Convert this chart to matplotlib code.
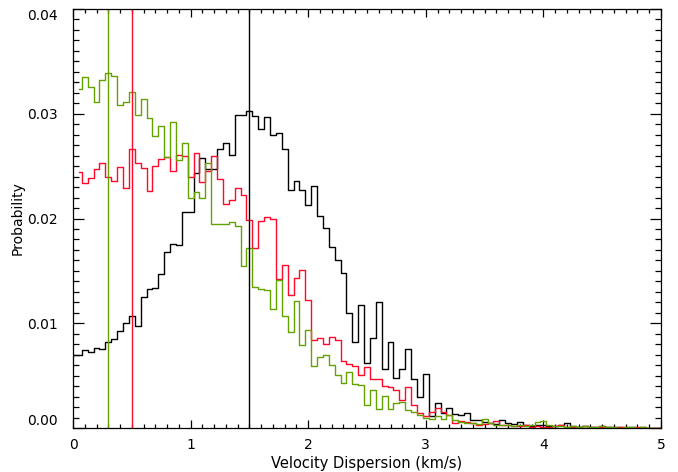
import numpy as np
import matplotlib
matplotlib.use("Agg")
import matplotlib.pyplot as plt
from matplotlib.ticker import MultipleLocator, FixedLocator

# ---- data (bin centres every 0.05 km/s) ----
bin_width = 0.05
black_vals = [0.0070, 0.0070, 0.0074, 0.0073, 0.0076, 0.0075, 0.0082, 0.0085, 0.0093, 0.0100,
              0.0107, 0.0097, 0.0125, 0.0133, 0.0134, 0.0147, 0.0168, 0.0176, 0.0175, 0.0206,
              0.0206, 0.0243, 0.0258, 0.0247, 0.0247, 0.0266, 0.0272, 0.0261, 0.0299, 0.0299,
              0.0303, 0.0298, 0.0285, 0.0297, 0.0280, 0.0282, 0.0266, 0.0227, 0.0236, 0.0227,
              0.0213, 0.0231, 0.0202, 0.0191, 0.0173, 0.0160, 0.0148, 0.0110, 0.0082, 0.0117,
              0.0062, 0.0086, 0.0120, 0.0056, 0.0082, 0.0048, 0.0056, 0.0075, 0.0047, 0.0030,
              0.0052, 0.0011, 0.0024, 0.0014, 0.0019, 0.0013, 0.0012, 0.0014, 0.0008, 0.0008,
              0.0006, 0.0005, 0.0004, 0.0008, 0.0005, 0.0004, 0.0006, 0.0003, 0.0002, 0.0003,
              0.0003, 0.0002, 0.0002, 0.0003, 0.0005, 0.0002, 0.0001, 0.0002, 0.0001, 0.0001,
              0.0002, 0.0001, 0.0001, 0.0001, 0.0000, 0.0001, 0.0000, 0.0001, 0.0000, 0.0000,
              0.0000]
red_vals = [0.0244, 0.0234, 0.0239, 0.0247, 0.0253, 0.0240, 0.0236, 0.0249, 0.0229, 0.0266,
            0.0253, 0.0248, 0.0226, 0.0250, 0.0257, 0.0259, 0.0245, 0.0261, 0.0260, 0.0240,
            0.0263, 0.0235, 0.0245, 0.0260, 0.0238, 0.0214, 0.0218, 0.0229, 0.0222, 0.0199,
            0.0172, 0.0198, 0.0201, 0.0200, 0.0142, 0.0156, 0.0127, 0.0143, 0.0151, 0.0122,
            0.0084, 0.0086, 0.0080, 0.0087, 0.0084, 0.0064, 0.0061, 0.0059, 0.0051, 0.0058,
            0.0047, 0.0047, 0.0040, 0.0039, 0.0036, 0.0027, 0.0039, 0.0022, 0.0014, 0.0011,
            0.0015, 0.0019, 0.0015, 0.0012, 0.0005, 0.0007, 0.0006, 0.0005, 0.0003, 0.0004,
            0.0005, 0.0007, 0.0003, 0.0003, 0.0002, 0.0002, 0.0003, 0.0001, 0.0002, 0.0001,
            0.0001, 0.0002, 0.0003, 0.0001, 0.0001, 0.0001, 0.0002, 0.0001, 0.0001, 0.0001,
            0.0001, 0.0000, 0.0001, 0.0001, 0.0000, 0.0001, 0.0000, 0.0000, 0.0000, 0.0000]
green_vals = [0.0324, 0.0335, 0.0326, 0.0311, 0.0332, 0.0339, 0.0336, 0.0308, 0.0311, 0.0321,
              0.0299, 0.0314, 0.0296, 0.0279, 0.0288, 0.0259, 0.0292, 0.0256, 0.0272, 0.0220,
              0.0225, 0.0220, 0.0253, 0.0195, 0.0195, 0.0195, 0.0197, 0.0193, 0.0155, 0.0172,
              0.0135, 0.0133, 0.0132, 0.0114, 0.0141, 0.0107, 0.0092, 0.0121, 0.0079, 0.0094,
              0.0059, 0.0068, 0.0070, 0.0060, 0.0051, 0.0043, 0.0053, 0.0042, 0.0041, 0.0022,
              0.0036, 0.0018, 0.0031, 0.0018, 0.0024, 0.0025, 0.0017, 0.0015, 0.0012, 0.0010,
              0.0009, 0.0011, 0.0009, 0.0012, 0.0008, 0.0006, 0.0005, 0.0005, 0.0004, 0.0009,
              0.0005, 0.0003, 0.0003, 0.0003, 0.0002, 0.0003, 0.0002, 0.0003, 0.0006, 0.0007,
              0.0003, 0.0002, 0.0002, 0.0001, 0.0002, 0.0001, 0.0002, 0.0001, 0.0001, 0.0002,
              0.0001, 0.0001, 0.0000, 0.0001, 0.0001, 0.0000, 0.0001, 0.0000, 0.0000, 0.0000]
black_start = 0.0
red_start = 0.05
green_start = 0.05
marker_lines = {"green": 0.3, "red": 0.5, "black": 1.5}
xlabel = "Velocity Dispersion (km/s)"
ylabel = "Probability"
y_ticks = [0.00, 0.01, 0.02, 0.03, 0.04]
x_ticks = [0, 1, 2, 3, 4, 5]

GREEN = "#64a200"
RED = "#ff0a2a"
BLACK = "#000000"

plt.rcParams['font.family'] = ['DejaVu Sans']

fig = plt.figure(figsize=(6.78, 4.72), dpi=100)
ax = fig.add_axes([73/678, 1 - 428/472, (661-73)/678, (428-9)/472])

def centres(start, vals):
    return start + bin_width * np.arange(len(vals))

ax.step(centres(black_start, black_vals), black_vals, where='mid', color=BLACK, lw=1.0)
ax.step(centres(red_start, red_vals), red_vals, where='mid', color=RED, lw=1.0)
ax.step(centres(green_start, green_vals), green_vals, where='mid', color=GREEN, lw=1.0)

ax.axvline(marker_lines["green"], color=GREEN, lw=1.0)
ax.axvline(marker_lines["red"], color=RED, lw=1.0)
ax.axvline(marker_lines["black"], color=BLACK, lw=1.0)

ax.set_xlim(0, 5)
ax.set_ylim(0, 0.04)
ax.xaxis.set_major_locator(FixedLocator(x_ticks))
ax.xaxis.set_minor_locator(MultipleLocator(0.1))
ax.yaxis.set_major_locator(FixedLocator(y_ticks))
ax.yaxis.set_minor_locator(MultipleLocator(0.001))
ax.set_xticklabels([str(t) for t in x_ticks])
ax.set_yticklabels([f"{t:.2f}" for t in y_ticks])

ax.tick_params(axis='x', which='major', direction='in', length=5.5, width=0.9,
               top=True, bottom=True, labelsize=10, pad=7, colors='black')
ax.tick_params(axis='x', which='minor', direction='in', length=3.0, width=0.9,
               top=True, bottom=True)
ax.tick_params(axis='y', which='major', direction='in', length=8.0, width=0.9,
               left=True, right=True, labelsize=10, pad=11)
ax.tick_params(axis='y', which='minor', direction='in', length=4.3, width=0.9,
               left=True, right=True)

ylabs = ax.get_yticklabels()
ylabs[0].set_verticalalignment('bottom')
ylabs[-1].set_verticalalignment('top')

for s in ax.spines.values():
    s.set_linewidth(0.9)

ax.set_xlabel(xlabel, fontsize=10.5)
ax.xaxis.set_label_coords(0.5, -0.068)
ax.set_ylabel(ylabel, fontsize=10)
ax.yaxis.set_label_coords(-0.082, 0.5)

fig.savefig("out.png", dpi=100)
